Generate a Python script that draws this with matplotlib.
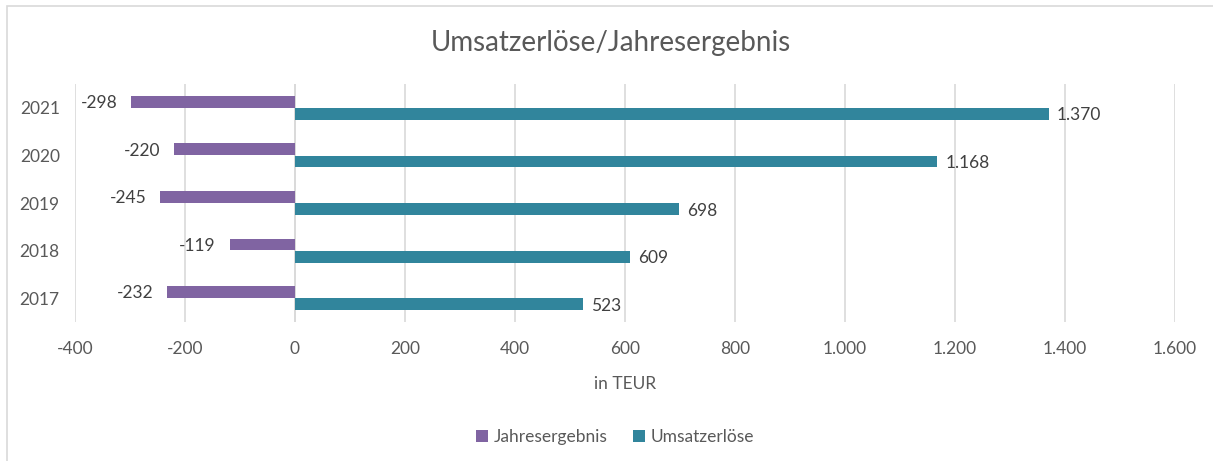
import numpy as np
import matplotlib
matplotlib.use("Agg")
import matplotlib.pyplot as plt
from matplotlib.patches import Rectangle
from matplotlib.ticker import FuncFormatter

years = ["2017", "2018", "2019", "2020", "2021"]
jahresergebnis = [-232, -119, -245, -220, -298]
umsatzerloese = [523, 609, 698, 1168, 1370]
xticks = [-400, -200, 0, 200, 400, 600, 800, 1000, 1200, 1400, 1600]

PURPLE = "#8064A2"
TEAL = "#31859C"
TXT = "#595959"
GRIDC = "#D9D9D9"


def de_fmt(v, pos=None):
    # german thousands separator
    s = f"{abs(int(round(v))):,}".replace(",", ".")
    return ("-" if v < 0 else "") + s


plt.rcParams["font.family"] = ["Lato", "DejaVu Sans"]

fig = plt.figure(figsize=(12.13, 4.61), dpi=100)
ax = fig.add_axes([75 / 1213, 1 - 322 / 461, 1100 / 1213, 238 / 461])

# chart frame
fig.patches.append(Rectangle((7 / 1213, -0.01), 1.0, 1 - 6 / 461 + 0.01,
                             transform=fig.transFigure, fill=False,
                             edgecolor="#D9D9D9", linewidth=1.2))

y = np.arange(len(years))
h = 0.245
ax.barh(y + 0.128, jahresergebnis, height=h, color=PURPLE, label="Jahresergebnis", zorder=3)
ax.barh(y - 0.128, umsatzerloese, height=h, color=TEAL, label="Umsatzerlöse", zorder=3)

for yi, v in zip(y, jahresergebnis):
    ax.annotate(de_fmt(v), (v, yi + 0.13), xytext=(-10, -1), textcoords="offset points",
                ha="right", va="center", fontsize=12.5, color="#404040")
for yi, v in zip(y, umsatzerloese):
    ax.annotate(de_fmt(v), (v, yi - 0.13), xytext=(6, -1), textcoords="offset points",
                ha="left", va="center", fontsize=12.5, color="#404040")

ax.set_xlim(-400, 1600)
ax.set_ylim(-0.5, len(years) - 0.5)
ax.set_xticks(xticks)
ax.xaxis.set_major_formatter(FuncFormatter(de_fmt))
ax.set_yticks(y)
ax.set_yticklabels(years)
ax.tick_params(axis="both", length=0, labelsize=12.5, labelcolor=TXT)
ax.tick_params(axis="x", pad=14)
ax.tick_params(axis="y", pad=11)
ax.grid(axis="x", color=GRIDC, linewidth=1.2, zorder=0)
for s in ax.spines.values():
    s.set_visible(False)
ax.axvline(0, color=GRIDC, linewidth=1.2, zorder=1)

ax.set_xlabel("in TEUR", fontsize=12.5, color=TXT, labelpad=13)
fig.text(611 / 1213, 1 - 43 / 461, "Umsatzerlöse/Jahresergebnis", ha="center", va="center",
         fontsize=20, color=TXT)

handles, labels = ax.get_legend_handles_labels()
fig.legend(handles, labels, loc="center", bbox_to_anchor=(615 / 1213, 1 - 437 / 461), ncol=2,
           frameon=False, fontsize=12.5, labelcolor=TXT, handlelength=0.7, handleheight=0.7,
           handletextpad=0.3, columnspacing=1.5)

fig.savefig("out.png", dpi=100)
